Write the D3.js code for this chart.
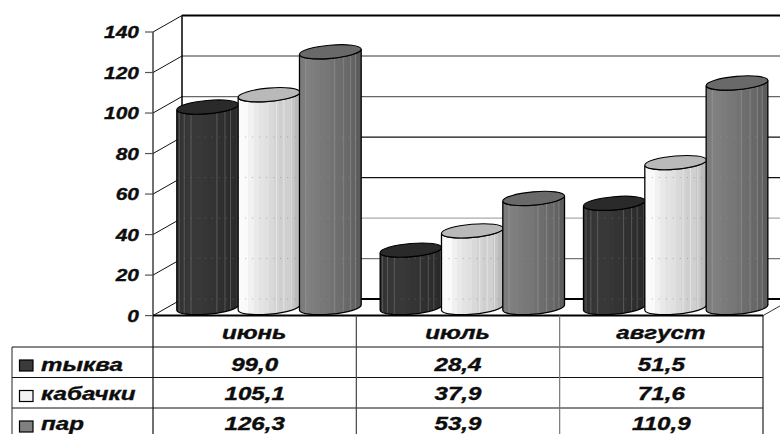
<!DOCTYPE html>
<html>
<head>
<meta charset="utf-8">
<script src="https://cdnjs.cloudflare.com/ajax/libs/d3/7.8.5/d3.min.js"></script>
<style>
html,body{margin:0;padding:0;background:#fff;overflow:hidden}
svg{display:block}
text{font-family:"Liberation Sans",Arial,sans-serif;font-weight:bold;font-style:italic;fill:#0d0d0d;stroke:#0d0d0d;stroke-width:.35px}
</style>
</head>
<body>
<svg id="chart" width="780" height="434"></svg>
<script>
// Source values
const months = ["июнь", "июль", "август"];
const seriesNames = ["тыква", "кабачки", "пар"];
const tykva = [99.0, 28.4, 51.5];
const kabachki = [105.1, 37.9, 71.6];
const par = [126.3, 53.9, 110.9];
const yTicks = [0, 20, 40, 60, 80, 100, 120, 140];

const rows = [tykva, kabachki, par];

// Layout of the pseudo-3D box
const front = {left: 153, right: 763, bottom: 315.6, top: 32};
const depth = {dx: 29, dy: -16.5};
const svg = d3.select("#chart");

const y = d3.scaleLinear().domain([0, 140]).range([front.bottom, front.top]);
const xBand = d3.scaleBand().domain(months).range([front.left, front.right]);
const xSeries = d3.scaleBand().domain(seriesNames).range([0, 184]);
const fmt = v => d3.format(".1f")(v).replace(".", ",");

// Vertical banding of the cylinder faces, with the thin streaks that sit on top
const defs = svg.append("defs");
const bands = [
  {id: "band0", cap: "#2a2a2a", swatch: "#3a3a3a", streak: "#8a8a8a", dots: "#777",
   streaks: [.04, .12, .23, .65, .78, .87, .98],
   stops: ["#333","#353535","#373737","#383838","#383838","#363636","#343434","#333","#303030","#2e2e2e","#2c2c2c","#2a2a2a"]},
  {id: "band1", cap: "#b9b9b9", swatch: "#f4f4f4", streak: "#fff", dots: "#888",
   streaks: [.62, .74, .86],
   stops: ["#fbfbfb","#fafafa","#f1f1f1","#e9e9e9","#e3e3e3","#e0e0e0","#d9d9d9","#d3d3d3","#cfcfcf","#d0d0d0","#c6c6c6","#bbbbbb"]},
  {id: "band2", cap: "#696969", swatch: "#808080", streak: "#a5a5a5", dots: "#9a9a9a",
   streaks: [.1, .57, .71, .83, .91],
   stops: ["#7c7c7c","#808080","#7e7e7e","#7b7b7b","#787878","#767676","#727272","#6e6e6e","#6b6b6b","#686868","#636363","#5c5c5c"]}
];
bands.forEach(b => {
  const g = defs.append("linearGradient").attr("id", b.id).attr("x1", 0).attr("x2", 1).attr("y1", 0).attr("y2", 0);
  b.stops.forEach((c, i) => {
    g.append("stop").attr("offset", i / b.stops.length).attr("stop-color", c);
    g.append("stop").attr("offset", (i + 1) / b.stops.length).attr("stop-color", c);
  });
});

// Back wall gridlines
const gridColor = {0: "#000", 20: "#777", 40: "#aaa", 60: "#111", 80: "#111", 100: "#666", 120: "#777", 140: "#000"};
const gridWidth = {0: 2, 140: 2};
const walls = svg.append("g");
walls.selectAll("line.grid").data(yTicks).join("line").attr("class", "grid")
  .attr("x1", front.left + depth.dx).attr("x2", front.right + depth.dx)
  .attr("y1", d => y(d) + depth.dy).attr("y2", d => y(d) + depth.dy)
  .attr("stroke", d => gridColor[d]).attr("stroke-width", d => gridWidth[d] || 1.3);
walls.selectAll("line.side").data(yTicks).join("line").attr("class", "side")
  .attr("x1", front.left).attr("x2", front.left + depth.dx)
  .attr("y1", d => y(d)).attr("y2", d => y(d) + depth.dy)
  .attr("stroke", "#111").attr("stroke-width", 1);
walls.append("line").attr("x1", front.left + depth.dx).attr("x2", front.left + depth.dx)
  .attr("y1", y(140) + depth.dy).attr("y2", y(0) + depth.dy).attr("stroke", "#000").attr("stroke-width", 1.5);
walls.append("line").attr("x1", front.left).attr("x2", front.left)
  .attr("y1", y(140)).attr("y2", 434).attr("stroke", "#111").attr("stroke-width", 1.2);
walls.append("line").attr("x1", front.right).attr("x2", front.right + depth.dx)
  .attr("y1", y(0)).attr("y2", y(0) + depth.dy).attr("stroke", "#333").attr("stroke-width", 1);

// Cylinders: a tilted ellipse swept down to the floor
const tilt = 5 * Math.PI / 180, capRy = 6.6;
const baseShift = -8;
let clipCount = 0;
function cylinder(sel, cx, rx, value, band) {
  const yTop = y(value) + baseShift, yBot = y(0) + baseShift;
  const ex = rx * Math.cos(tilt), ey = rx * Math.sin(tilt);
  const arc = (tx, ty, sweep) => `A${rx},${capRy} -5 0 ${sweep} ${tx},${ty}`;
  const body = `M${cx - ex},${yTop + ey}L${cx - ex},${yBot + ey}` +
    arc(cx + ex, yBot - ey, 0) + `L${cx + ex},${yTop - ey}` + arc(cx - ex, yTop + ey, 1) + "Z";
  const clipId = "cyl" + clipCount++;
  defs.append("clipPath").attr("id", clipId).append("path").attr("d", body);
  sel.append("path").attr("d", body).attr("fill", `url(#${band.id})`);

  const inner = sel.append("g").attr("clip-path", `url(#${clipId})`);
  inner.selectAll("line.streak").data(band.streaks).join("line").attr("class", "streak")
    .attr("x1", f => cx - ex + 2 * ex * f).attr("x2", f => cx - ex + 2 * ex * f)
    .attr("y1", yTop - 10).attr("y2", yBot + 12)
    .attr("stroke", band.streak).attr("stroke-width", 0.8).attr("stroke-opacity", 0.55);
  // Faint specks where the wall gridlines pass behind the face
  inner.selectAll("line.speck").data(yTicks.filter(t => t < value && t <= 80)).join("line").attr("class", "speck")
    .attr("x1", cx - ex).attr("x2", cx + ex)
    .attr("y1", t => y(t) + depth.dy).attr("y2", t => y(t) + depth.dy)
    .attr("stroke", band.dots).attr("stroke-width", 1).attr("stroke-dasharray", "1 6").attr("stroke-opacity", 0.6);

  sel.append("path").attr("d", body).attr("fill", "none").attr("stroke", "#000").attr("stroke-width", 1.3);
  sel.append("ellipse")
    .attr("cx", 0).attr("cy", 0).attr("rx", rx).attr("ry", capRy)
    .attr("transform", `translate(${cx},${yTop}) rotate(-5)`)
    .attr("fill", band.cap).attr("stroke", "#000").attr("stroke-width", 1.1);
}
const bars = svg.append("g");
months.forEach((m, mi) => {
  seriesNames.forEach((s, si) => {
    const left = xBand(m) + 24 + xSeries(s);
    const w = xSeries.bandwidth();
    cylinder(bars.append("g"), left + w / 2, w / 2 + 0.3, rows[si][mi], bands[si]);
  });
});

// Floor edge drawn over the cylinder bases
svg.append("line").attr("x1", front.left).attr("x2", front.right)
  .attr("y1", y(0)).attr("y2", y(0)).attr("stroke", "#000").attr("stroke-width", 2);

// Stretched bold-italic labels
function label(parent, str, x, yb, size, sx, anchor) {
  return parent.append("text").text(str)
    .attr("transform", `translate(${x},${yb}) scale(${sx},1)`)
    .attr("text-anchor", anchor).attr("font-size", size);
}

// Value axis
const axis = svg.append("g");
yTicks.forEach(t => {
  axis.append("line").attr("x1", 145).attr("x2", front.left)
    .attr("y1", y(t)).attr("y2", y(t)).attr("stroke", "#555").attr("stroke-width", 1.2);
  label(axis, t, 139, y(t) + 6, 16.5, 1.27, "end");
});

// Data table under the plot
const rowTop = 347, rowH = 30.5, tableLeft = 12;
const rowBase = i => 370.5 + i * 29.85;
const table = svg.append("g");
[0, 1, 2].forEach(i => {
  table.append("line").attr("x1", tableLeft).attr("x2", front.right)
    .attr("y1", rowTop + i * rowH).attr("y2", rowTop + i * rowH)
    .attr("stroke", "#111").attr("stroke-width", 1);
});
table.append("line").attr("x1", tableLeft).attr("x2", tableLeft)
  .attr("y1", rowTop).attr("y2", 434).attr("stroke", "#222").attr("stroke-width", 1);
months.forEach((m, i) => {
  const xEnd = xBand(m) + xBand.bandwidth();
  table.append("line").attr("x1", xEnd).attr("x2", xEnd)
    .attr("y1", y(0)).attr("y2", 434).attr("stroke", i === 0 ? "#444" : i === 1 ? "#777" : "#222").attr("stroke-width", 1.2);
  const cx = xBand(m) + xBand.bandwidth() / 2;
  label(table, m, cx - 0.5, 338.5, 17.5, 1.38, "middle");
  rows.forEach((r, ri) => label(table, fmt(r[i]), cx, rowBase(ri), 17.5, 1.38, "middle"));
});
seriesNames.forEach((s, i) => {
  const top = rowTop + i * rowH + 13;
  table.append("rect").attr("x", 19.5).attr("y", top).attr("width", 13.5).attr("height", 11)
    .attr("fill", bands[i].swatch).attr("stroke", "#000").attr("stroke-width", 1.2);
  label(table, s, 41, rowBase(i), 17.5, 1.38, "start");
});
</script>
</body>
</html>
